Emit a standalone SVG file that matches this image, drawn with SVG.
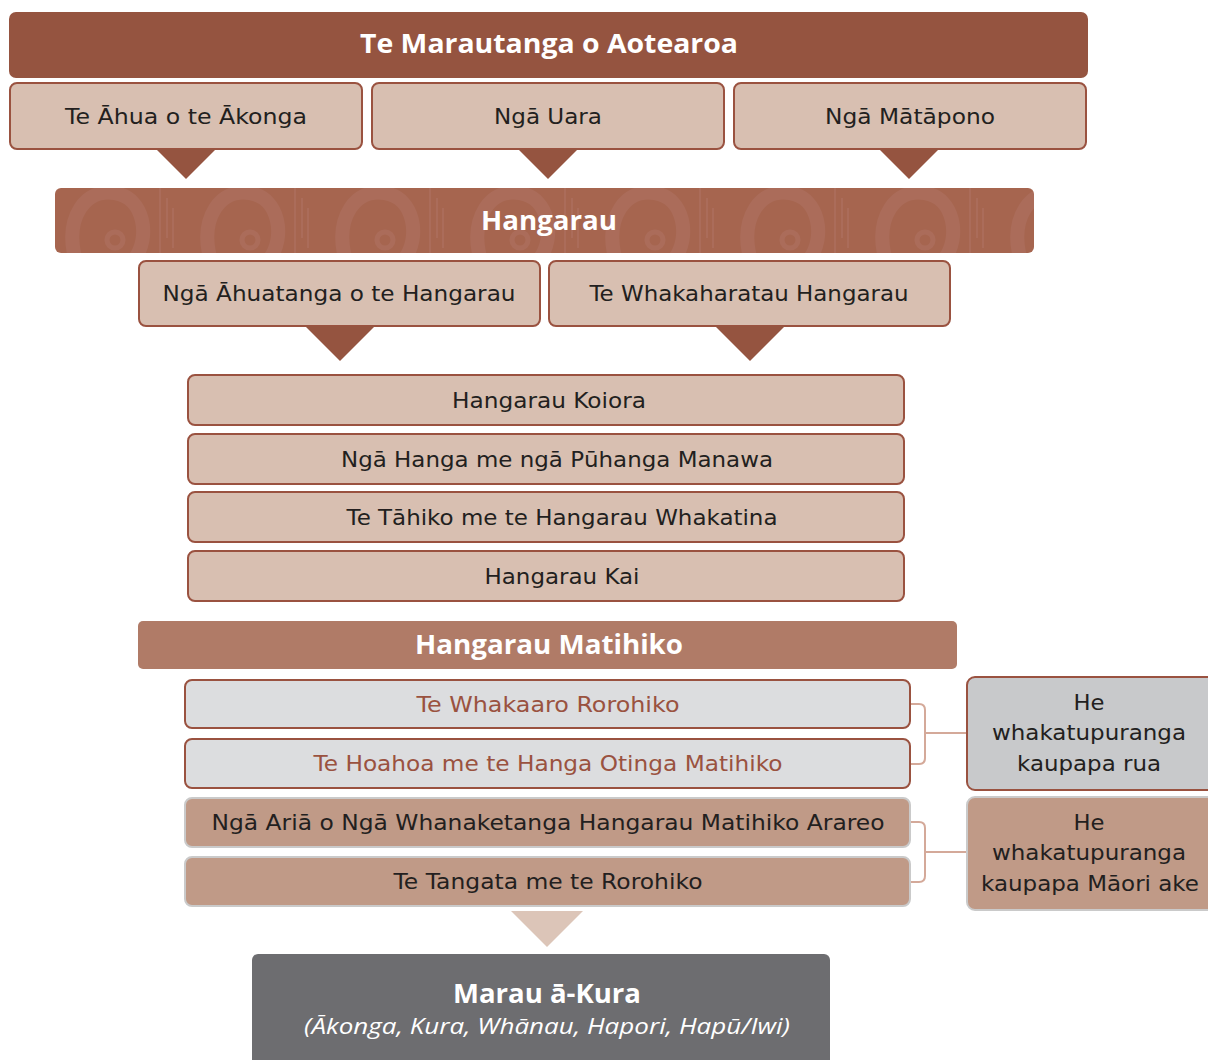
<svg xmlns="http://www.w3.org/2000/svg" width="1208" height="1060" viewBox="0 0 1208 1060">
<defs>
<style>
.t{text-anchor:middle}
.hd{font-family:"Open Sans","Noto Sans","Liberation Sans",sans-serif;font-size:26px;font-weight:700;fill:#ffffff}
.lb{font-family:"DejaVu Sans","Liberation Sans",sans-serif;font-size:22px;fill:#231f20}
.lr{font-family:"DejaVu Sans","Liberation Sans",sans-serif;font-size:22px;fill:#9a5240}
.it{font-family:"Open Sans","Noto Sans","Liberation Sans",sans-serif;font-size:22px;font-style:italic;fill:#ffffff}
.bx{fill:#d8bfb1;stroke:#9a5240;stroke-width:2}
.gy{fill:#dcdddf;stroke:#9a5240;stroke-width:2}
.br{fill:#c09a87;stroke:#cacaca;stroke-width:2}
.tri{fill:#955440}
.brk{fill:none;stroke:#d4a999;stroke-width:2}
</style>
<pattern id="koru" x="55" y="188" width="135" height="66" patternUnits="userSpaceOnUse">
<rect width="135" height="66" fill="#a6654f"/>
<path d="M20 70 C10 30 30 0 60 5 C90 10 95 50 80 70" fill="none" stroke="#ab6c5a" stroke-width="14"/>
<circle cx="60" cy="52" r="8" fill="none" stroke="#ab6c5a" stroke-width="5"/>
<path d="M105 0 V66 M112 10 V50 M118 20 V60" stroke="#ab6c5a" stroke-width="2"/>
</pattern>
</defs>
<g id="top">
<rect x="9" y="12" width="1079" height="66" rx="7" fill="#955440"/>
<text class="t hd" x="549" y="53" textLength="378" lengthAdjust="spacingAndGlyphs">Te Marautanga o Aotearoa</text>
</g>
<g id="ahua">
<rect class="bx" x="10" y="83" width="352" height="66" rx="7"/>
<text class="t lb" x="186" y="124" textLength="242" lengthAdjust="spacingAndGlyphs">Te Āhua o te Ākonga</text>
</g>
<g id="uara">
<rect class="bx" x="372" y="83" width="352" height="66" rx="7"/>
<text class="t lb" x="548" y="124" textLength="108" lengthAdjust="spacingAndGlyphs">Ngā Uara</text>
</g>
<g id="matapono">
<rect class="bx" x="734" y="83" width="352" height="66" rx="7"/>
<text class="t lb" x="910" y="124" textLength="170" lengthAdjust="spacingAndGlyphs">Ngā Mātāpono</text>
</g>
<g id="hangarau">
<rect x="55" y="188" width="979" height="65" rx="6" fill="url(#koru)"/>
<text class="t hd" x="549" y="230" textLength="136" lengthAdjust="spacingAndGlyphs">Hangarau</text>
</g>
<g id="ahuatanga">
<rect class="bx" x="139" y="261" width="401" height="65" rx="7"/>
<text class="t lb" x="339" y="301" textLength="353" lengthAdjust="spacingAndGlyphs">Ngā Āhuatanga o te Hangarau</text>
</g>
<g id="whakaharatau">
<rect class="bx" x="549" y="261" width="401" height="65" rx="7"/>
<text class="t lb" x="749" y="301" textLength="319" lengthAdjust="spacingAndGlyphs">Te Whakaharatau Hangarau</text>
</g>
<g id="koiora">
<rect class="bx" x="188" y="375" width="716" height="50" rx="7"/>
<text class="t lb" x="549" y="408" textLength="194" lengthAdjust="spacingAndGlyphs">Hangarau Koiora</text>
</g>
<g id="hanga">
<rect class="bx" x="188" y="434" width="716" height="50" rx="7"/>
<text class="t lb" x="557" y="467" textLength="432" lengthAdjust="spacingAndGlyphs">Ngā Hanga me ngā Pūhanga Manawa</text>
</g>
<g id="tahiko">
<rect class="bx" x="188" y="492" width="716" height="50" rx="7"/>
<text class="t lb" x="562" y="525" textLength="431" lengthAdjust="spacingAndGlyphs">Te Tāhiko me te Hangarau Whakatina</text>
</g>
<g id="kai">
<rect class="bx" x="188" y="551" width="716" height="50" rx="7"/>
<text class="t lb" x="562" y="584" textLength="155" lengthAdjust="spacingAndGlyphs">Hangarau Kai</text>
</g>
<g id="matihiko">
<rect x="138" y="621" width="819" height="48" rx="5" fill="#b07b67"/>
<text class="t hd" x="549" y="654" textLength="268" lengthAdjust="spacingAndGlyphs">Hangarau Matihiko</text>
</g>
<g id="whakaaro">
<rect class="gy" x="185" y="680" width="725" height="48" rx="7"/>
<text class="t lr" x="548" y="712" textLength="263" lengthAdjust="spacingAndGlyphs">Te Whakaaro Rorohiko</text>
</g>
<g id="hoahoa">
<rect class="gy" x="185" y="739" width="725" height="49" rx="7"/>
<text class="t lr" x="548" y="771" textLength="469" lengthAdjust="spacingAndGlyphs">Te Hoahoa me te Hanga Otinga Matihiko</text>
</g>
<g id="aria">
<rect class="br" x="185" y="798" width="725" height="49" rx="7"/>
<text class="t lb" x="548" y="830" textLength="673" lengthAdjust="spacingAndGlyphs">Ngā Ariā o Ngā Whanaketanga Hangarau Matihiko Arareo</text>
</g>
<g id="tangata">
<rect class="br" x="185" y="857" width="725" height="49" rx="7"/>
<text class="t lb" x="548" y="889" textLength="309" lengthAdjust="spacingAndGlyphs">Te Tangata me te Rorohiko</text>
</g>
<g id="rua">
<rect x="967" y="677" width="250" height="113" rx="8" fill="#c8c9cb" stroke="#9a5240" stroke-width="2"/>
<text class="t lb" x="1089" y="710" textLength="31" lengthAdjust="spacingAndGlyphs">He</text>
<text class="t lb" x="1089" y="740" textLength="194" lengthAdjust="spacingAndGlyphs">whakatupuranga</text>
<text class="t lb" x="1089" y="771" textLength="144" lengthAdjust="spacingAndGlyphs">kaupapa rua</text>
</g>
<g id="maoriake">
<rect x="967" y="797" width="250" height="113" rx="8" fill="#c09a87" stroke="#cacaca" stroke-width="2"/>
<text class="t lb" x="1089" y="830" textLength="31" lengthAdjust="spacingAndGlyphs">He</text>
<text class="t lb" x="1089" y="860" textLength="194" lengthAdjust="spacingAndGlyphs">whakatupuranga</text>
<text class="t lb" x="1090" y="891" textLength="218" lengthAdjust="spacingAndGlyphs">kaupapa Māori ake</text>
</g>
<g id="marau">
<rect x="252" y="954" width="578" height="120" rx="6" fill="#6d6d70"/>
<text class="t hd" x="547" y="1003" textLength="188" lengthAdjust="spacingAndGlyphs">Marau ā-Kura</text>
<text class="t it" x="547" y="1034" textLength="486" lengthAdjust="spacingAndGlyphs">(Ākonga, Kura, Whānau, Hapori, Hapū/Iwi)</text>
</g>
<g id="connectors">
<polygon class="tri" points="156,149 216,149 186,179"/>
<polygon class="tri" points="518,149 578,149 548,179"/>
<polygon class="tri" points="879,149 939,149 909,179"/>
<polygon class="tri" points="305,326 375,326 340,361"/>
<polygon class="tri" points="715,326 785,326 750,361"/>
<polygon points="511,911 583,911 547,947" fill="#dcc5b8"/>
<path class="brk" d="M911 704 H919 Q925 704 925 710 V758 Q925 764 919 764 H911 M925 733 H966"/>
<path class="brk" d="M911 822 H919 Q925 822 925 828 V876 Q925 882 919 882 H911 M925 852 H966"/>
</g>
</svg>
